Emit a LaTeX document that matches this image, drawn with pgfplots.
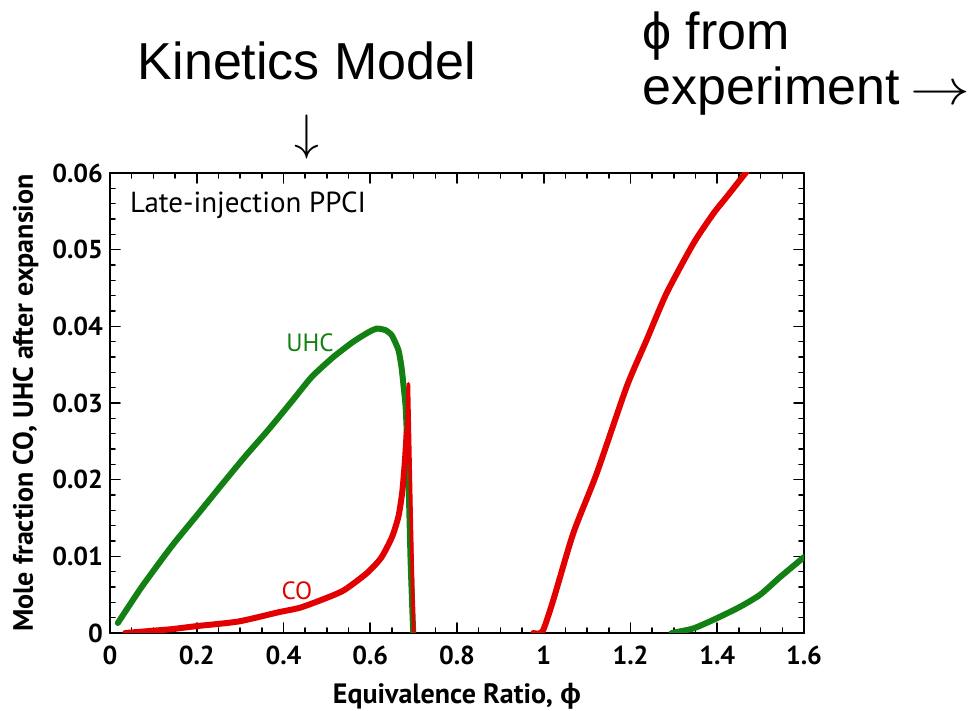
\documentclass[border=0pt]{standalone}
\usepackage{fontspec}
\setmainfont{Liberation Sans}
\newfontfamily\ptsans{PT Sans}
\newfontfamily\libsans{Liberation Sans}
\usepackage{pgfplots}
\pgfplotsset{compat=1.18}

\definecolor{uhcgreen}{RGB}{18,128,18}
\definecolor{cored}{RGB}{226,0,0}

\begin{document}
\begin{tikzpicture}
\useasboundingbox (0,0) rectangle (484pt,355.5pt);

% headings above the chart
\node[anchor=base, font=\fontsize{26}{26}\selectfont] at (153.5pt,315.5pt) {Kinetics Model};
\node[font=\fontsize{30}{30}\selectfont] at (153.5pt,287pt) {$\downarrow$};
\node[anchor=base west, inner sep=0pt, font=\fontsize{26}{26}\selectfont] at (321pt,330.5pt) {ϕ from};
\node[anchor=base west, inner sep=0pt, font=\fontsize{26}{26}\selectfont] at (321pt,303pt) {experiment\hspace{0.2em}\scalebox{1.2}[1]{$\rightarrow$}};

\begin{axis}[
    at={(55pt,39pt)}, anchor=south west,
    scale only axis,
    width=347pt, height=230pt,
    xmin=0, xmax=1.6, ymin=0, ymax=0.06,
    xtick={0,0.2,...,1.6},
    ytick={0,0.01,...,0.06},
    minor x tick num=3,
    minor y tick num=4,
    tick align=inside,
    major tick length=5pt,
    minor tick length=2.5pt,
    axis line style={line width=1pt},
    every tick/.style={black, line width=0.8pt},
    scaled y ticks=false,
    xticklabel style={yshift=-3pt, /pgf/number format/.cd, fixed, precision=1},
    yticklabel style={/pgf/number format/.cd, fixed, precision=2},
    /pgf/number format/assume math mode=true,
    tick label style={font=\ptsans\bfseries\fontsize{13}{13}\selectfont},
    label style={font=\ptsans\bfseries\fontsize{14}{14}\selectfont},
    xlabel style={yshift=-2pt},
    xlabel={Equivalence Ratio, {\libsans ϕ}},
    ylabel={Mole fraction CO, UHC after expansion},
    line join=round, line cap=round,
]
% UHC, lean branch
\addplot[uhcgreen, line width=3pt, smooth, tension=0.35] coordinates {
    (0.018,0.0013) (0.073,0.0060) (0.142,0.0113) (0.204,0.0156)
    (0.257,0.0193) (0.311,0.0230) (0.365,0.0265) (0.419,0.0302)
    (0.465,0.0334) (0.515,0.0360) (0.561,0.0380) (0.595,0.0392)
    (0.615,0.0397) (0.635,0.0395) (0.650,0.0388) (0.665,0.0369)
    (0.672,0.0347) (0.677,0.0321) (0.682,0.0291) (0.688,0.0204)
    (0.693,0.0095) (0.699,0.0)
};
% CO, lean branch
\addplot[cored, line width=3pt, smooth, tension=0.4] coordinates {
    (0.035,0.0) (0.10,0.0003) (0.142,0.0005) (0.200,0.0009)
    (0.296,0.0015) (0.388,0.0027) (0.438,0.0033) (0.496,0.0045)
    (0.540,0.0056) (0.592,0.0078) (0.625,0.0098) (0.650,0.0125)
    (0.665,0.0152) (0.674,0.0185) (0.680,0.0225) (0.684,0.0262)
};
\addplot[cored, line width=1.8pt] coordinates {
    (0.684,0.0262) (0.688,0.0325) (0.694,0.0160) (0.700,0.0)
};
% CO, rich branch
\addplot[cored, line width=3pt, smooth, tension=0.4] coordinates {
    (0.976,0.0) (0.997,0.0002) (1.022,0.0043) (1.068,0.0130)
    (1.122,0.0208) (1.191,0.0321) (1.237,0.0382) (1.283,0.0443)
    (1.345,0.0508) (1.391,0.0547) (1.422,0.0569) (1.468,0.0602)
};
% UHC, rich branch
\addplot[uhcgreen, line width=3pt, smooth, tension=0.4] coordinates {
    (1.295,0.0) (1.345,0.0006) (1.398,0.0019) (1.452,0.0034)
    (1.499,0.0050) (1.545,0.0073) (1.600,0.0099)
};

\node[anchor=west, font=\ptsans\fontsize{14.5}{14.5}\selectfont] at (axis cs:0.03,0.0558) {Late-injection PPCI};
\node[uhcgreen, font=\ptsans\fontsize{12.5}{12.5}\selectfont] at (axis cs:0.461,0.0378) {UHC};
\node[cored, font=\ptsans\fontsize{12.5}{12.5}\selectfont] at (axis cs:0.431,0.0055) {CO};
\end{axis}
\end{tikzpicture}
\end{document}
